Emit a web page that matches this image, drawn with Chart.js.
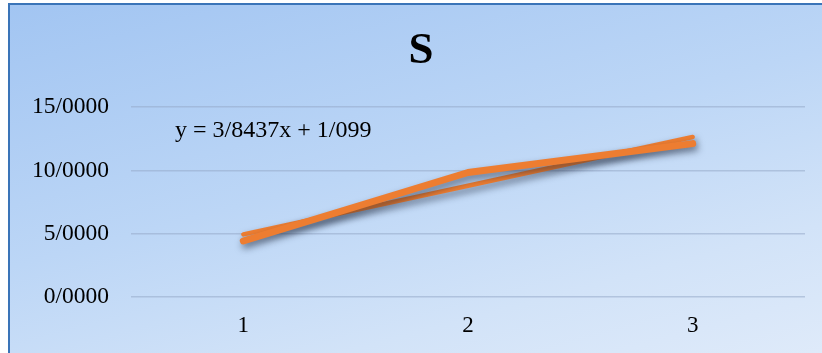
<!DOCTYPE html>
<html>
<head>
<meta charset="utf-8">
<script src="https://cdn.jsdelivr.net/npm/chart.js@4"></script>
<style>
  html, body { margin: 0; padding: 0; width: 822px; height: 353px; overflow: hidden; background: #ffffff; }
  #frame {
    position: absolute; left: 8px; top: 3px; width: 830px; height: 360px;
    border-left: 2px solid #3a74b8; border-top: 2px solid #3a74b8;
    background: linear-gradient(165deg, #a2c5f2 0%, #bcd6f6 45%, #d2e3f8 75%, #e0ebfa 100%);
  }
  #wrap { position: absolute; left: 0; top: 0; width: 822px; height: 348px; }
</style>
</head>
<body>
<div id="frame"><div id="wrap"><canvas id="c"></canvas></div></div>
<script>
// Category labels and measured series
const categories = ['1', '2', '3'];
const values = [4.42, 9.83, 12.11];
// Linear trendline as stated by its equation label
const trendSlope = 3.8437;
const trendIntercept = 1.099;
const trendLabel = 'y = 3/8437x + 1/099';
const chartTitle = 'S';

const trendValues = categories.map((c, i) => trendSlope * (i + 1) + trendIntercept);

// Tick text uses "/" as the decimal separator
const fmt = v => {
  const [a, b] = Number(v).toFixed(4).split('.');
  return a + '/' + b;
};

const serif = '"Liberation Serif", "Times New Roman", serif';
const orange = '#ed7d31';

const shadowPlugin = {
  id: 'lineShadow',
  beforeDatasetDraw(chart) {
    const ctx = chart.ctx;
    ctx.save();
    ctx.shadowColor = 'rgba(20,30,50,0.55)';
    ctx.shadowBlur = 7;
    ctx.shadowOffsetX = 2;
    ctx.shadowOffsetY = 4;
  },
  afterDatasetDraw(chart) {
    chart.ctx.restore();
  }
};

// Title and trendline equation text
const textPlugin = {
  id: 'texts',
  afterDraw(chart) {
    const ctx = chart.ctx;
    ctx.save();
    ctx.fillStyle = '#000000';
    ctx.textBaseline = 'middle';
    ctx.textAlign = 'center';
    ctx.font = 'bold 45px ' + serif;
    ctx.fillText(chartTitle, 411, 46);
    ctx.textAlign = 'left';
    ctx.font = '24px ' + serif;
    ctx.fillText(trendLabel, 165, 126);
    ctx.restore();
  }
};

new Chart(document.getElementById('c'), {
  type: 'line',
  data: {
    labels: categories,
    datasets: [
      {
        label: 'trend',
        data: trendValues,
        borderColor: orange,
        borderWidth: 4.5,
        pointRadius: 0,
        tension: 0,
        borderCapStyle: 'round',
        order: 2
      },
      {
        label: 'S',
        data: values,
        borderColor: orange,
        borderWidth: 7,
        pointRadius: 0,
        tension: 0,
        borderCapStyle: 'round',
        borderJoinStyle: 'round',
        order: 1
      }
    ]
  },
  options: {
    responsive: true,
    maintainAspectRatio: false,
    animation: false,
    layout: { padding: { left: 0, right: 27, top: 102, bottom: 16 } },
    plugins: {
      legend: { display: false },
      tooltip: { enabled: false },
      title: { display: false }
    },
    scales: {
      x: {
        offset: true,
        grid: { display: false, drawTicks: false },
        border: { display: false },
        ticks: { color: '#000000', font: { family: serif, size: 23 }, padding: 15 },
        afterFit(scale) { scale.height = 40; }
      },
      y: {
        min: 0,
        max: 15,
        ticks: {
          stepSize: 5,
          color: '#000000',
          font: { family: serif, size: 23.5 },
          padding: 22,
          callback: v => fmt(v)
        },
        grid: { color: 'rgba(150,170,200,0.55)', lineWidth: 1.5, drawTicks: false },
        border: { display: false },
        afterFit(scale) { scale.width = 121; }
      }
    }
  },
  plugins: [shadowPlugin, textPlugin]
});
</script>
</body>
</html>
